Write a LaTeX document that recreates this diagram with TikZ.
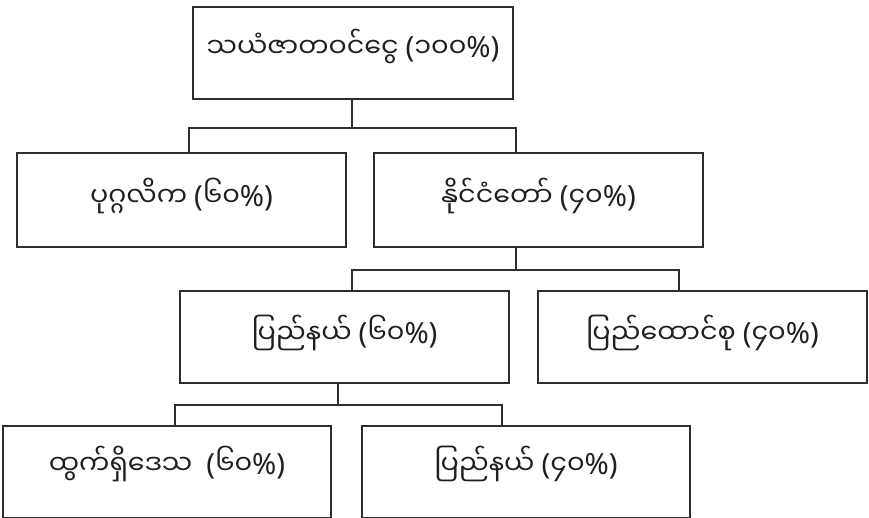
\documentclass[tikz,border=0pt]{standalone}
\usepackage{fontspec}
\newfontfamily\mmfont[Script=Myanmar]{Noto Sans Myanmar UI}
\newfontfamily\latfont[Scale=1.08]{Noto Sans}
\newcommand\mylp{{\latfont(}}
\newcommand\myrp{{\latfont)}}
\newcommand\mypc{{\latfont\%}}
\newcommand\upby[2]{\raisebox{#1}{#2}}
\begin{document}
\begin{tikzpicture}[x=1pt,y=-1pt,
  box/.style={draw=black!82, line width=1.6pt, rectangle, inner sep=0pt,
    font=\mmfont\fontsize{27}{31}\selectfont, text=black!88},
  conn/.style={draw=black!82, line width=1.6pt}]
\useasboundingbox (0,0) rectangle (869,518);
\clip (0,0) rectangle (869,518);
\node[box, minimum width=320pt, minimum height=92pt] (b1) at (353,53) {\upby{20pt}{သယံဇာတဝင်ငွေ \mylp ၁၀၀\mypc\myrp}};
\node[box, minimum width=329pt, minimum height=94pt] (b2) at (181.5,200) {\upby{16pt}{ပုဂ္ဂလိက \mylp ၆၀\mypc\myrp}};
\node[box, minimum width=329pt, minimum height=94pt] (b3) at (538.5,200) {\upby{16pt}{နိုင်ငံတော် \mylp ၄၀\mypc\myrp}};
\node[box, minimum width=329pt, minimum height=92pt] (b4) at (344.5,337) {\upby{16pt}{ပြည်နယ် \mylp ၆၀\mypc\myrp}};
\node[box, minimum width=329pt, minimum height=92pt] (b5) at (702.5,337) {\upby{16pt}{ပြည်ထောင်စု \mylp ၄၀\mypc\myrp}};
\node[box, minimum width=328pt, minimum height=92pt, anchor=north] (b6) at (167,425) {\upby{24pt}{ထွက်ရှိဒေသ\ \ \mylp ၆၀\mypc\myrp}};
\node[box, minimum width=328pt, minimum height=92pt, anchor=north] (b7) at (526,425) {\upby{24pt}{ပြည်နယ် \mylp ၄၀\mypc\myrp}};
\coordinate (j1) at (352,128);
\coordinate (j1l) at (189,128);
\coordinate (j1r) at (516,128);
\coordinate (j2) at (516,270);
\coordinate (j2l) at (352,270);
\coordinate (j2r) at (679,270);
\coordinate (j3) at (338,405);
\coordinate (j3l) at (175,405);
\coordinate (j3r) at (502,405);
\draw[conn] (b1.south -| j1) -- (j1);
\draw[conn] (b2.north -| j1l) -- (j1l) -- (j1r) -- (b3.north -| j1r);
\draw[conn] (b3.south -| j2) -- (j2);
\draw[conn] (b4.north -| j2l) -- (j2l) -- (j2r) -- (b5.north -| j2r);
\draw[conn] (b4.south -| j3) -- (j3);
\draw[conn] (b6.north -| j3l) -- (j3l) -- (j3r) -- (b7.north -| j3r);
\end{tikzpicture}
\end{document}
